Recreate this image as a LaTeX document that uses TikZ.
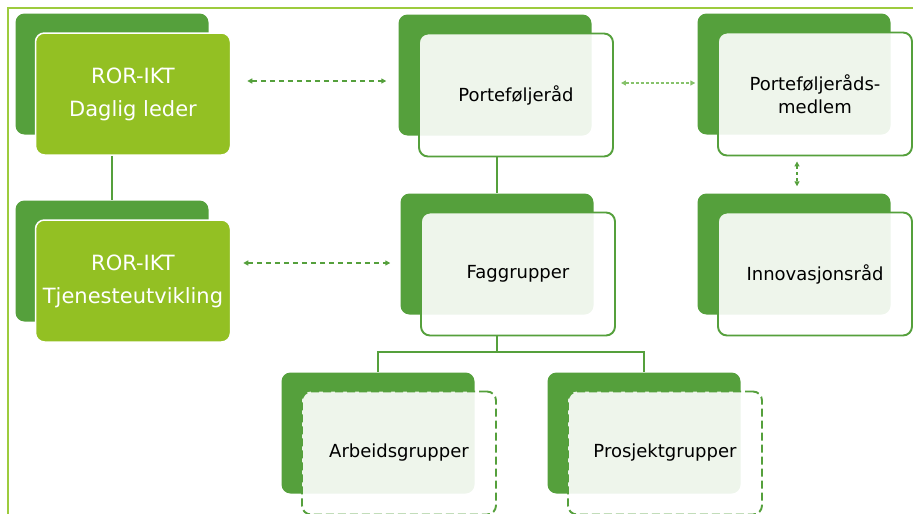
\documentclass[tikz,border=0pt]{standalone}
\usepackage{fontspec}
\setmainfont{DejaVu Sans}
\usetikzlibrary{arrows.meta,calc}

\definecolor{leafgreen}{HTML}{55A03C}
\definecolor{limegreen}{HTML}{93C023}
\definecolor{framegreen}{HTML}{9DCB3E}
\definecolor{palegreen}{HTML}{86C26A}

\tikzset{
    backbox/.style={fill=leafgreen, rounded corners=9pt, minimum width=193pt,
        minimum height=121pt, inner sep=0pt},
    leadbox/.style={fill=limegreen, draw=white, line width=1.5pt, rounded corners=9pt,
        minimum width=195pt, minimum height=122pt, text=white, align=center,
        font=\fontsize{21}{33}\selectfont},
    unitbox/.style={fill=white, fill opacity=0.9, text opacity=1, draw=leafgreen,
        line width=1.9pt, rounded corners=9pt, minimum width=194pt,
        minimum height=123pt, align=center, font=\fontsize{18}{23}\selectfont},
    groupbox/.style={unitbox, dash pattern=on 8pt off 4pt},
    link/.style={draw=leafgreen, line width=2pt},
    twoway/.style={leafgreen, line width=1.3pt, dash pattern=on 5pt off 4pt,
        {Triangle[length=5pt,width=5pt]}-{Triangle[length=5pt,width=5pt]}},
    twowaylight/.style={twoway, palegreen, dash pattern=on 3pt off 2pt}
}

\begin{document}
\begin{tikzpicture}[x=1pt,y=-1pt]
        \useasboundingbox (0,0) rectangle (913,514);
        \clip (0,0) rectangle (913,514);

        % Ramme
        \draw[framegreen, line width=2.5pt] (8,514) -- (8,8) -- (913,8);

        % Enheter: bakgrunn og forgrunn
        \foreach \name/\x/\y/\kind/\txt in {
            daglig/133/94/leadbox/{ROR-IKT\\Daglig leder},
            tjeneste/133/281/leadbox/{ROR-IKT\\Tjenesteutvikling},
            porte/516/95/unitbox/{Porteføljeråd},
            fag/518/274/unitbox/{Faggrupper},
            medlem/815/94/unitbox/{Porteføljeråds-\\medlem},
            innov/815/274/unitbox/{Innovasjonsråd},
            arbeid/399/453/groupbox/{Arbeidsgrupper},
            prosjekt/665/453/groupbox/{Prosjektgrupper}}
        {
            \node[backbox] (\name-b) at (\x-21,\y-20) {};
            \node[\kind] (\name) at (\x,\y) {\txt};
        }

        % Linjer
        \draw[link] (daglig.south -| tjeneste-b.north) -- (tjeneste-b.north);
        \draw[link] (porte.south -| fag-b.north) -- (fag-b.north);
        \draw[link] (fag.south -| fag-b.north) -- ++(0,16) coordinate (split);
        \draw[link] (split) -| (arbeid-b.north);
        \draw[link] (split) -| (prosjekt-b.north);

        % Piler
        \draw[twoway, shorten <=16pt, shorten >=12pt]
            ($(daglig.east)+(0,-13)$) -- ($(daglig.east -| porte-b.west)+(0,-13)$);
        \draw[twoway, shorten <=12pt, shorten >=10pt]
            ($(tjeneste.east)+(0,-18)$) -- ($(tjeneste.east -| fag-b.west)+(0,-18)$);
        \draw[twowaylight, shorten <=7pt, shorten >=2pt]
            ($(porte.east)+(0,-12)$) -- ($(porte.east -| medlem-b.west)+(0,-12)$);
        \draw[twoway, dash pattern=on 3pt off 3pt, shorten <=5pt, shorten >=7pt]
            ($(medlem.south)+(-18,0)$) -- ($(innov-b.north)+(3,0)$);
    \end{tikzpicture}
\end{document}
